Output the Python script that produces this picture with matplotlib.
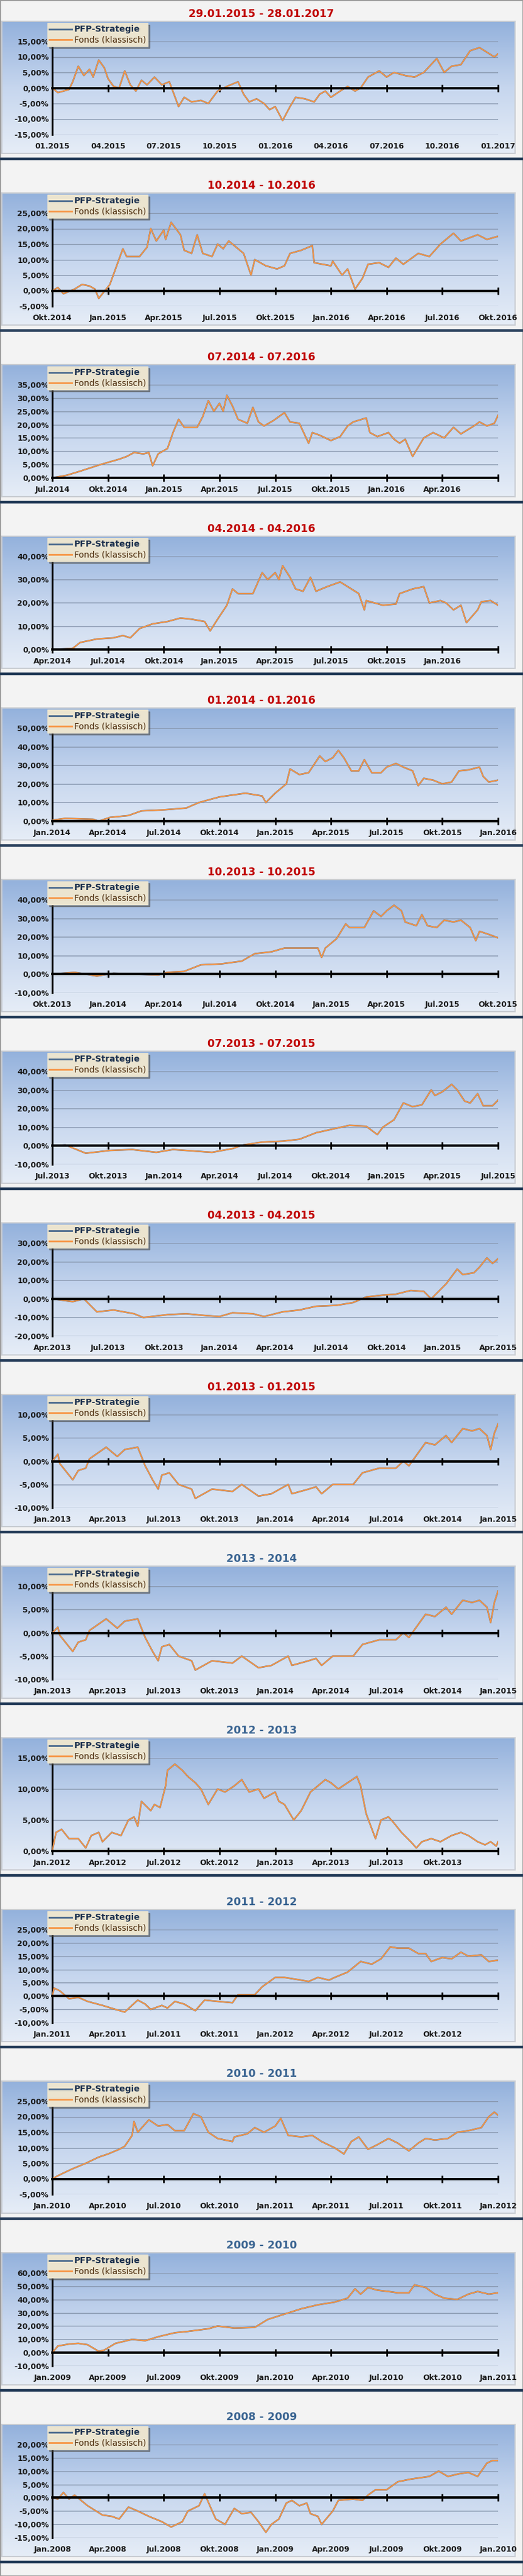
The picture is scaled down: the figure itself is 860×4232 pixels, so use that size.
"""
Fifteen stacked two-year performance panels: PFP-Strategie vs. Fonds (klassisch).
Output: out.png (860x4232)
"""

import numpy as np
import matplotlib
matplotlib.use("Agg")
import matplotlib.pyplot as plt
from matplotlib.patches import Rectangle
from matplotlib.lines import Line2D

plt.rcParams["font.family"] = ["Liberation Sans Narrow", "DejaVu Sans"]

W, H = 860, 4232
PANEL_H = 282

TITLES = [
    "29.01.2015 - 28.01.2017", "10.2014 - 10.2016", "07.2014 - 07.2016",
    "04.2014 - 04.2016", "01.2014 - 01.2016", "10.2013 - 10.2015",
    "07.2013 - 07.2015", "04.2013 - 04.2015", "01.2013 - 01.2015",
    "2013 - 2014", "2012 - 2013", "2011 - 2012", "2010 - 2011",
    "2009 - 2010", "2008 - 2009",
]
TITLE_COLORS = ["#c00000"] * 9 + ["#3b6592"] * 6

Y_RANGES = [
    (-15, 15, 5), (-5, 25, 5), (0, 35, 5), (0, 40, 10), (0, 50, 10),
    (-10, 40, 10), (-10, 40, 10), (-20, 30, 10), (-10, 10, 5), (-10, 10, 5),
    (0, 15, 5), (-10, 25, 5), (-5, 25, 5), (-10, 60, 10), (-15, 20, 5),
]

X_LABELS = [
    ["01.2015", "04.2015", "07.2015", "10.2015", "01.2016", "04.2016", "07.2016", "10.2016", "01.2017"],
    ["Okt.2014", "Jan.2015", "Apr.2015", "Jul.2015", "Okt.2015", "Jan.2016", "Apr.2016", "Jul.2016", "Okt.2016"],
    ["Jul.2014", "Okt.2014", "Jan.2015", "Apr.2015", "Jul.2015", "Okt.2015", "Jan.2016", "Apr.2016", ""],
    ["Apr.2014", "Jul.2014", "Okt.2014", "Jan.2015", "Apr.2015", "Jul.2015", "Okt.2015", "Jan.2016", ""],
    ["Jan.2014", "Apr.2014", "Jul.2014", "Okt.2014", "Jan.2015", "Apr.2015", "Jul.2015", "Okt.2015", "Jan.2016"],
    ["Okt.2013", "Jan.2014", "Apr.2014", "Jul.2014", "Okt.2014", "Jan.2015", "Apr.2015", "Jul.2015", "Okt.2015"],
    ["Jul.2013", "Okt.2013", "Jan.2014", "Apr.2014", "Jul.2014", "Okt.2014", "Jan.2015", "Apr.2015", "Jul.2015"],
    ["Apr.2013", "Jul.2013", "Okt.2013", "Jan.2014", "Apr.2014", "Jul.2014", "Okt.2014", "Jan.2015", "Apr.2015"],
    ["Jan.2013", "Apr.2013", "Jul.2013", "Okt.2013", "Jan.2014", "Apr.2014", "Jul.2014", "Okt.2014", "Jan.2015"],
    ["Jan.2013", "Apr.2013", "Jul.2013", "Okt.2013", "Jan.2014", "Apr.2014", "Jul.2014", "Okt.2014", "Jan.2015"],
    ["Jan.2012", "Apr.2012", "Jul.2012", "Okt.2012", "Jan.2013", "Apr.2013", "Jul.2013", "Okt.2013", ""],
    ["Jan.2011", "Apr.2011", "Jul.2011", "Okt.2011", "Jan.2012", "Apr.2012", "Jul.2012", "Okt.2012", ""],
    ["Jan.2010", "Apr.2010", "Jul.2010", "Okt.2010", "Jan.2011", "Apr.2011", "Jul.2011", "Okt.2011", "Jan.2012"],
    ["Jan.2009", "Apr.2009", "Jul.2009", "Okt.2009", "Jan.2010", "Apr.2010", "Jul.2010", "Okt.2010", "Jan.2011"],
    ["Jan.2008", "Apr.2008", "Jul.2008", "Okt.2008", "Jan.2009", "Apr.2009", "Jul.2009", "Okt.2009", "Jan.2010"],
]

# x in months since period start, y in percent (Fonds klassisch; PFP line coincides)
X1 = [0, 0.3, 0.9, 1.1, 1.4, 1.7, 2.0, 2.2, 2.5, 2.8, 3.0, 3.3, 3.6, 3.9, 4.2, 4.5, 4.8, 5.1, 5.5, 5.9,
      6.3, 6.8, 7.1, 7.5, 8.0, 8.4, 8.9, 9.4, 10.0, 10.3, 10.6, 11.0, 11.4, 11.7, 12.0, 12.4, 12.8, 13.1,
      13.6, 14.1, 14.4, 14.7, 15.0, 15.5, 15.9, 16.3, 16.6, 17.0, 17.6, 18.0, 18.4, 19.0, 19.5, 20.0,
      20.7, 21.1, 21.5, 22.0, 22.5, 23.0, 23.4, 23.8, 24]
Y1 = [0, -1.5, -0.5, 2, 7, 4, 6, 3.5, 9, 6.5, 3, 0.5, 0, 5.5, 1, -1, 2.5, 1, 3.5, 1,
      2, -6, -3, -4.5, -4, -5, -1, 0.5, 2, -2, -4.5, -3.5, -5, -7, -6, -10.5, -6, -3,
      -3.5, -4.5, -2, -1, -3, -1, 0.5, -1, 0, 3.5, 5.5, 3.5, 5, 4, 3.5, 5,
      9.5, 5, 7, 7.5, 12, 13, 11.5, 10, 11]
X2 = [0, 0.3, 0.6, 1.2, 1.6, 2.0, 2.3, 2.5, 3.1, 3.8, 4.0, 4.7, 5.1, 5.3, 5.6, 6.0, 6.1, 6.4,
      6.9, 7.1, 7.5, 7.8, 8.1, 8.6, 8.9, 9.2, 9.5, 10.3, 10.7, 10.9, 11.5, 12.1, 12.5, 12.8, 13.4,
      14.0, 14.1, 15.0, 15.1, 15.6, 15.9, 16.3, 16.7, 17.0, 17.6, 18.1, 18.5, 18.9, 19.7, 20.3,
      20.9, 21.6, 22.0, 22.9, 23.4, 24]
Y2 = [0, 1, -1, 0.5, 2, 1.5, 0.5, -2.5, 2, 13.5, 11, 11, 14, 20, 16, 19.5, 16.5, 22,
      18, 13, 12, 18, 12, 11, 15, 13.5, 16, 12, 5, 10, 8, 7, 8, 12, 13,
      14.5, 9, 8, 9.5, 5, 7, 0.5, 4, 8.5, 9, 7.5, 10.5, 8.5, 12, 11,
      15, 18.5, 16, 18, 16.5, 17.5]
X3 = [0, 0.8, 1.5, 2.6, 3.1, 3.6, 4.0, 4.4, 4.9, 5.2, 5.4, 5.7, 6.2, 6.5, 6.8, 7.1, 7.8, 8.1, 8.4, 8.7,
      9.0, 9.2, 9.4, 9.7, 10.0, 10.5, 10.8, 11.1, 11.4, 11.9, 12.5, 12.8, 13.3, 13.8, 14.0, 14.4, 15.0,
      15.5, 15.9, 16.2, 16.9, 17.1, 17.5, 18.1, 18.4, 18.7, 19.0, 19.4, 20.0, 20.5, 21.1, 21.6, 22.0,
      22.7, 23.0, 23.4, 23.8, 24]
Y3 = [0, 1, 2.5, 5, 6, 7, 8, 9.5, 9, 9.5, 4.5, 9, 11, 17, 22, 19, 19, 23, 29, 25,
      28, 25, 31, 27, 22, 20.5, 26.5, 21, 19.5, 21.5, 24.5, 21, 20.5, 13, 17, 16, 14,
      15.5, 19.5, 21, 22.5, 17, 15.5, 17, 14.5, 13, 14.5, 8, 15, 17, 15, 19, 16.5,
      19.5, 21, 19.5, 20.5, 23.5]
X4 = [0, 1.1, 1.5, 2.4, 3.3, 3.8, 4.2, 4.7, 5.4, 6.2, 6.9, 7.5, 8.2, 8.5, 8.9, 9.4, 9.7, 10.0, 10.8,
      11.3, 11.6, 12.0, 12.2, 12.4, 12.8, 13.1, 13.5, 13.9, 14.2, 14.8, 15.5, 15.9, 16.5, 16.8, 16.9,
      17.8, 18.5, 18.7, 19.4, 20.0, 20.3, 20.9, 21.2, 21.6, 22.0, 22.3, 22.9, 23.1, 23.6, 24]
Y4 = [0, 0.5, 3, 4.5, 5, 6, 5, 9, 11, 12, 13.5, 13, 12, 8, 13, 19, 26, 24, 24,
      33, 30, 33, 30, 36, 31, 26, 25, 31, 25, 27, 29, 27, 24, 17, 21,
      19, 19.5, 24, 26, 27, 20, 21, 20, 17, 19, 11.5, 17, 20.5, 21, 19]
X5 = [0, 0.7, 2.2, 2.5, 3.1, 4.1, 4.8, 5.9, 7.2, 7.9, 9.0, 9.7, 10.4, 11.3, 11.5, 12.0, 12.6, 12.8,
      13.3, 13.8, 14.4, 14.7, 15.1, 15.4, 15.7, 16.1, 16.5, 16.8, 17.2, 17.7, 18.0, 18.5, 18.9, 19.4,
      19.7, 20.0, 20.5, 21.0, 21.5, 21.9, 22.4, 23.0, 23.2, 23.5, 24]
Y5 = [0.5, 1.5, 1, 0, 2, 3, 5.5, 6, 7, 10, 13, 14, 15, 13.5, 10, 15, 20, 28,
      25, 26, 35, 32, 34, 38, 34, 27, 27, 33, 26, 26, 29, 31, 29, 27,
      19, 23, 22, 20, 21, 27, 27.5, 29, 24, 21, 22]
X6 = [0, 1.2, 2.4, 3.3, 4.4, 5.7, 6.2, 7.1, 8.0, 9.1, 10.2, 10.9, 11.8, 12.5, 13.4, 14.3, 14.5, 14.7,
      15.3, 15.8, 16.0, 16.8, 17.3, 17.7, 18.0, 18.4, 18.8, 19.0, 19.6, 19.9, 20.2, 20.7, 21.1, 21.6,
      22.0, 22.5, 22.8, 23.0, 23.6, 24]
Y6 = [0, 1, -1, 0.5, 0, -0.5, 1, 1.5, 5, 5.5, 7, 11, 12, 14, 14, 14, 9, 14,
      19, 27, 25, 25, 34, 31, 34, 37, 34, 28, 26, 32, 26, 25, 29, 28,
      29, 25, 18, 23, 21, 19.5]
X7 = [0, 0.7, 1.8, 3.1, 4.3, 5.6, 6.5, 7.9, 8.6, 9.7, 10.3, 11.3, 12.4, 13.3, 14.2, 15.1, 16.0, 16.9,
      17.5, 17.8, 18.4, 18.9, 19.4, 19.9, 20.4, 20.6, 21.0, 21.5, 21.8, 22.2, 22.5, 22.9, 23.2, 23.7, 24]
Y7 = [0, 0.5, -4, -2.5, -2, -3.5, -2, -3, -3.5, -1.5, 0.5, 2, 2.5, 3.5, 7, 9, 11, 10.5,
      6, 10, 14, 23, 21, 22, 30, 27, 29, 33, 30, 24, 23, 28, 21.5, 21.5, 24.5]
X8 = [0, 1.1, 1.7, 2.4, 3.3, 4.4, 4.9, 6.2, 7.2, 8.3, 9.0, 9.7, 10.8, 11.4, 12.4, 13.3, 14.2, 15.3,
      16.2, 16.9, 17.8, 18.5, 19.3, 20.0, 20.4, 20.7, 21.2, 21.8, 22.1, 22.7, 23.0, 23.4, 23.7, 24]
Y8 = [0, -1.5, 0, -7, -6, -8, -10, -8.5, -8, -9, -9.5, -7.5, -8, -9.5, -7, -6, -4, -3.5,
      -2, 1, 2, 2.5, 4.5, 4, 0, 3, 8, 16, 13, 14, 17, 22, 19, 21.5]
X9 = [0, 0.3, 0.4, 1.1, 1.4, 1.8, 2.0, 2.9, 3.5, 3.9, 4.6, 5.0, 5.4, 5.7, 5.9, 6.3, 6.8, 7.5, 7.7, 8.6,
      9.7, 10.2, 11.1, 11.8, 12.7, 12.9, 13.8, 14.2, 14.5, 15.1, 16.2, 16.7, 17.6, 18.5, 18.9, 19.2,
      20.1, 20.6, 21.2, 21.5, 22.1, 22.6, 23.0, 23.4, 23.6, 23.8, 24]
Y9 = [0, 1.5, -0.5, -4, -2, -1.5, 0.5, 3, 1, 2.5, 3, -1, -4, -6, -3, -2.5, -5, -6, -8, -6,
      -6.5, -5, -7.5, -7, -5, -7, -6, -5.5, -7, -5, -5, -2.5, -1.5, -1.5, 0, -1,
      4, 3.5, 5.5, 4, 7, 6.5, 7, 5.5, 2.5, 6, 8]
X10 = [0, 0.3, 0.4, 1.1, 1.4, 1.8, 2.0, 2.9, 3.5, 3.9, 4.6, 5.0, 5.4, 5.7, 5.9, 6.3, 6.8, 7.5, 7.7, 8.6,
       9.7, 10.2, 11.1, 11.8, 12.7, 12.9, 13.8, 14.2, 14.5, 15.1, 16.2, 16.7, 17.6, 18.5, 18.9, 19.2,
       20.1, 20.6, 21.2, 21.5, 22.1, 22.6, 23.0, 23.4, 23.6, 23.8, 24]
Y10 = [0, 1.2, -0.5, -4, -2, -1.5, 0.5, 3, 1, 2.5, 3, -1, -4, -6, -3, -2.5, -5, -6, -8, -6,
       -6.5, -5, -7.5, -7, -5, -7, -6, -5.5, -7, -5, -5, -2.5, -1.5, -1.5, 0, -1,
       4, 3.5, 5.5, 4, 7, 6.5, 7, 5.5, 2.2, 6.5, 9]
X11 = [0, 0.2, 0.5, 0.9, 1.4, 1.8, 2.1, 2.5, 2.7, 3.2, 3.7, 4.1, 4.4, 4.6, 4.8, 5.3, 5.5, 5.8, 6.1, 6.2,
       6.6, 7.0, 7.3, 7.7, 8.0, 8.4, 8.9, 9.3, 9.8, 10.2, 10.6, 11.1, 11.4, 12.0, 12.2, 12.5, 13.0,
       13.4, 13.9, 14.3, 14.7, 15.0, 15.4, 15.9, 16.4, 16.6, 16.9, 17.4, 17.7, 18.1, 18.4, 18.8,
       19.3, 19.6, 19.9, 20.4, 20.9, 21.5, 22.0, 22.4, 22.9, 23.3, 23.6, 23.9, 24]
Y11 = [0, 3, 3.5, 2, 2, 0.5, 2.5, 3, 1.5, 3, 2.5, 5, 5.5, 4, 8, 6.5, 7.5, 7, 10.5, 13,
       14, 13, 12, 11, 10, 7.5, 10, 9.5, 10.5, 11.5, 9.5, 10, 8.5, 9.5, 8, 7.5, 5,
       6.5, 9.5, 10.5, 11.5, 11, 10, 11, 12, 10.5, 6, 2, 5, 5.5, 4.5, 3,
       1.5, 0.5, 1.5, 2, 1.5, 2.5, 3, 2.5, 1.5, 1, 1.5, 0.8, 1.5]
X12 = [0, 0.1, 0.4, 0.9, 1.4, 1.9, 2.7, 3.4, 3.9, 4.6, 5.0, 5.3, 5.9, 6.2, 6.6, 7.1, 7.7, 8.2, 8.9,
       9.7, 10.0, 10.9, 11.3, 12.0, 12.5, 13.4, 13.8, 14.3, 14.9, 15.2, 15.9, 16.6, 17.2, 17.7, 18.2,
       18.6, 19.2, 19.7, 20.1, 20.4, 21.0, 21.5, 22.0, 22.4, 23.1, 23.5, 24]
Y12 = [0, 3, 2, -1, -0.5, -2, -3.5, -5, -6, -1.5, -3, -5, -3.5, -4.5, -2, -3, -5.5, -1.5, -2,
       -2.5, 0.5, 0.5, 3.5, 7, 7, 6, 5.5, 7, 6, 7, 9, 13, 12, 14, 18.5,
       18, 18, 16, 16, 13, 14.5, 14, 16.5, 15, 15.5, 13, 13.5]
X13 = [0, 0.3, 1.0, 1.8, 2.5, 3.0, 3.6, 3.9, 4.3, 4.4, 4.6, 5.2, 5.7, 6.2, 6.6, 7.1, 7.6, 8.0, 8.4,
       8.9, 9.7, 9.8, 10.5, 10.9, 11.4, 12.0, 12.3, 12.7, 13.4, 14.0, 14.5, 15.2, 15.7, 16.1, 16.5,
       17.0, 17.5, 18.1, 18.6, 19.2, 19.7, 20.1, 20.6, 21.3, 21.8, 22.4, 23.1, 23.5, 23.8, 24]
Y13 = [0, 1, 3, 5, 7, 8, 9.5, 10.5, 14, 18.5, 15, 19, 17, 17.5, 15.5, 15.5, 21, 20, 15,
       13, 12, 13.5, 14.5, 16.5, 15, 17, 19.5, 14, 13.5, 14, 12, 10, 8, 12, 13.5,
       9.5, 11, 13, 11.5, 9, 11.5, 13, 12.5, 13, 15, 15.5, 16.5, 20, 21.5, 20.5]
X14 = [0, 0.3, 0.9, 1.4, 1.9, 2.5, 2.8, 3.4, 4.3, 5.0, 5.7, 6.6, 7.3, 8.4, 8.9, 9.8, 10.9, 11.6, 12.5,
       13.4, 14.3, 15.2, 15.9, 16.3, 16.6, 17.0, 17.5, 18.1, 18.6, 19.2, 19.5, 20.1, 20.6, 21.1, 21.8,
       22.4, 22.9, 23.5, 24]
Y14 = [0, 5, 6.5, 7, 6, 1, 2, 7, 10, 9, 12, 15, 16, 18, 20, 18.5, 19, 25, 29,
       33, 36, 38, 41, 48, 44, 49, 47, 46, 45, 45, 51, 49, 44, 41, 40,
       44, 46, 44, 45]
X15 = [0, 0.3, 0.6, 0.9, 1.2, 1.9, 2.7, 3.2, 3.6, 4.1, 4.6, 5.2, 5.9, 6.4, 7.0, 7.3, 7.9, 8.2, 8.8,
       9.3, 9.8, 10.2, 10.7, 11.1, 11.5, 11.8, 12.2, 12.6, 12.9, 13.3, 13.7, 13.9, 14.3, 14.5, 15.1,
       15.4, 16.2, 16.7, 17.0, 17.4, 18.0, 18.6, 19.3, 20.3, 20.8, 21.3, 21.9, 22.4, 22.9, 23.4, 23.7, 24]
Y15 = [0, -0.5, 2, -0.5, 1, -3, -6.5, -7, -8, -3.5, -5, -7, -9, -11, -9, -5, -3, 1.5, -8,
       -10, -4, -6, -5.5, -9, -13, -10, -8, -2, -1, -3, -2, -6, -7, -10, -5,
       -1, -0.5, -1, 1, 3, 3, 6, 7, 8, 10, 8, 9, 9.5, 8, 13, 14, 14]

SERIES_X = [X1, X2, X3, X4, X5, X6, X7, X8, X9, X10, X11, X12, X13, X14, X15]
SERIES_Y = [Y1, Y2, Y3, Y4, Y5, Y6, Y7, Y8, Y9, Y10, Y11, Y12, Y13, Y14, Y15]

PFP_COLOR = "#4a6a8e"
FONDS_COLOR = "#f79646"


def fx(px: float) -> float:
    return px / W


def fy(px: float) -> float:
    return 1 - px / H


def pct(v: float) -> str:
    return f"{v:.2f}%".replace(".", ",")


def draw_panel(fig, i: int) -> None:
    top = i * PANEL_H
    fig.text(fx(430), fy(top + 23), TITLES[i], color=TITLE_COLORS[i], fontsize=12.5,
             fontweight="bold", ha="center", va="center")

    # gradient chart frame
    frame = fig.add_axes([fx(3), fy(top + 252), fx(844), (252 - 35) / H])
    grad = np.linspace(0, 1, 256).reshape(-1, 1)
    cmap = matplotlib.colors.LinearSegmentedColormap.from_list("bg", ["#93b1dc", "#c6d6ee", "#e6edf7"])
    frame.imshow(grad, aspect="auto", cmap=cmap, extent=[0, 1, 0, 1])
    frame.set_xticks([])
    frame.set_yticks([])
    for spine in frame.spines.values():
        spine.set_color("#c8ccd2")
        spine.set_linewidth(1.5)

    lo, hi, step = Y_RANGES[i]
    ax = fig.add_axes([fx(86), fy(top + 221), fx(733), (221 - 68) / H])
    ax.patch.set_alpha(0)
    ax.set_xlim(0, 24)
    ax.set_ylim(lo, hi)
    yticks = np.arange(lo, hi + step / 2, step)
    ax.set_yticks(yticks)
    ax.set_yticklabels([pct(v) for v in yticks], fontsize=9, fontweight="bold", color="#1a1a1a")
    for v in yticks:
        ax.axhline(v, color="#8796ad", lw=1.0, zorder=1)

    ax.plot(SERIES_X[i], SERIES_Y[i], color=PFP_COLOR, lw=1.8, zorder=3, label="PFP-Strategie")
    ax.plot(SERIES_X[i], SERIES_Y[i], color=FONDS_COLOR, lw=1.5, zorder=4, label="Fonds (klassisch)")

    for side in ["top", "right"]:
        ax.spines[side].set_visible(False)
    ax.spines["left"].set_linewidth(2.2)
    ax.spines["bottom"].set_position(("data", 0))
    ax.spines["bottom"].set_linewidth(2.8)
    ax.spines["bottom"].set_zorder(5)
    xticks = np.arange(0, 25, 3)
    ax.set_xticks(xticks)
    ax.set_xticklabels([])
    ax.tick_params(axis="x", direction="inout", length=9, width=2)
    ax.tick_params(axis="y", length=0, pad=4)
    for x, label in zip(xticks, X_LABELS[i]):
        ax.text(x, -0.13, label, transform=ax.get_xaxis_transform(), ha="center", va="center",
                fontsize=9, fontweight="bold", color="#1a1a1a")

    handles = [Line2D([], [], color=PFP_COLOR, lw=2), Line2D([], [], color=FONDS_COLOR, lw=2)]
    leg = fig.legend(handles, ["PFP-Strategie", "Fonds (klassisch)"], loc="upper left",
                     bbox_to_anchor=(fx(78), fy(top + 38)), frameon=True, fancybox=False,
                     shadow=True, fontsize=10, handlelength=2.6, borderpad=0.25,
                     labelspacing=0.25, handletextpad=0.3, borderaxespad=0)
    leg.get_frame().set_facecolor("#ebe4cf")
    leg.get_frame().set_edgecolor("#ebe4cf")
    texts = leg.get_texts()
    texts[0].set_color("#1f3350")
    texts[0].set_fontweight("bold")
    texts[1].set_color("#4a2a0a")

    # dark divider below the panel
    fig.add_artist(Rectangle((0, fy(top + 262)), 1, 3 / H, transform=fig.transFigure,
                             color="#223a57", zorder=10))


def main() -> None:
    fig = plt.figure(figsize=(W / 100, H / 100), dpi=100, facecolor="#f3f3f3")
    fig.add_artist(Rectangle((0, 0), 1, 1, transform=fig.transFigure, fill=False,
                             edgecolor="#9a9a9a", lw=2))
    for i in range(len(TITLES)):
        draw_panel(fig, i)
    fig.savefig("out.png", dpi=100, facecolor=fig.get_facecolor())


if __name__ == "__main__":
    main()
